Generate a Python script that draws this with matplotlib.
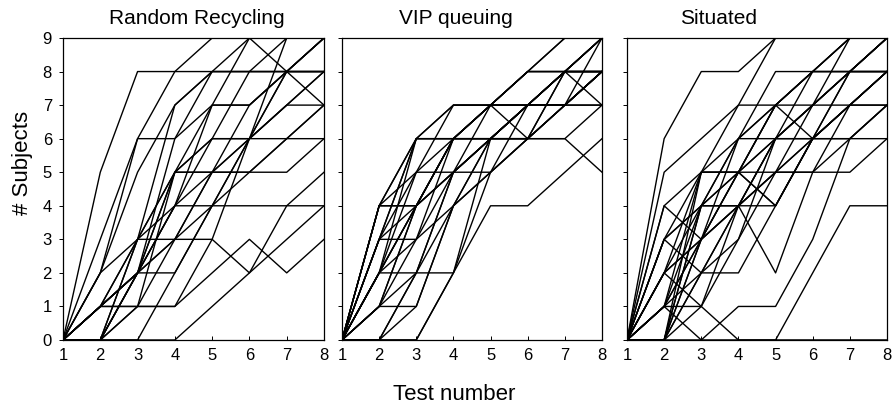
import matplotlib.pyplot as plt

plt.rcParams['font.family'] = ['Liberation Sans', 'DejaVu Sans']

tests = [1, 2, 3, 4, 5, 6, 7, 8]
panel_titles = ["Random Recycling", "VIP queuing", "Situated"]

# number of subjects per item at each test
random_recycling = [
    [0, 5, 8, 8, 8, 8, 8, 8],
    [0, 3, 6, 6, 8, 8, 8, 9],
    [0, 2, 6, 8, 9, 9, 9, 9],
    [0, 1, 3, 7, 8, 8, 8, 8],
    [0, 2, 3, 5, 7, 7, 8, 9],
    [0, 1, 2, 5, 5, 5, 6, 7],
    [0, 1, 3, 5, 6, 6, 7, 8],
    [0, 0, 2, 4, 6, 8, 9, 9],
    [0, 1, 2, 3, 5, 7, 8, 9],
    [0, 0, 1, 5, 5, 6, 7, 7],
    [0, 1, 1, 3, 4, 5, 6, 7],
    [0, 0, 3, 3, 3, 2, 4, 5],
    [0, 0, 1, 1, 2, 3, 2, 3],
    [0, 0, 0, 0, 1, 2, 3, 4],
    [0, 1, 2, 2, 4, 4, 4, 4],
    [0, 0, 2, 3, 5, 5, 5, 6],
    [0, 1, 1, 1, 3, 6, 8, 8],
    [0, 0, 2, 6, 7, 9, 8, 7],
    [0, 1, 2, 4, 5, 6, 9, 9],
    [0, 0, 0, 2, 4, 6, 7, 8],
    [0, 2, 5, 7, 8, 9, 9, 9],
    [0, 0, 2, 5, 6, 6, 6, 6],
    [0, 1, 2, 4, 7, 7, 8, 8],
    [0, 0, 3, 4, 4, 6, 8, 9],
]

vip_queuing = [
    [0, 4, 6, 6, 7, 7, 8, 9],
    [0, 4, 5, 6, 7, 8, 9, 9],
    [0, 3, 6, 7, 7, 8, 8, 9],
    [0, 3, 4, 6, 7, 7, 8, 8],
    [0, 2, 6, 6, 6, 7, 8, 9],
    [0, 2, 5, 5, 6, 7, 7, 8],
    [0, 4, 4, 5, 6, 6, 7, 8],
    [0, 3, 3, 6, 6, 7, 7, 8],
    [0, 1, 1, 4, 6, 6, 7, 7],
    [0, 2, 2, 2, 5, 7, 7, 8],
    [0, 1, 4, 5, 6, 7, 8, 9],
    [0, 0, 2, 5, 6, 7, 7, 8],
    [0, 0, 1, 4, 5, 6, 8, 8],
    [0, 0, 0, 2, 4, 4, 5, 6],
    [0, 0, 0, 2, 6, 7, 7, 8],
    [0, 2, 4, 6, 7, 8, 8, 9],
    [0, 3, 6, 6, 7, 8, 9, 9],
    [0, 1, 4, 6, 6, 6, 8, 8],
    [0, 2, 4, 5, 7, 7, 8, 7],
    [0, 2, 4, 6, 7, 6, 6, 5],
    [0, 1, 2, 5, 5, 6, 7, 7],
    [0, 4, 6, 7, 7, 7, 7, 8],
    [0, 3, 5, 7, 7, 8, 8, 8],
    [0, 2, 3, 4, 6, 6, 7, 9],
    [0, 1, 3, 5, 6, 7, 8, 8],
    [0, 0, 2, 4, 5, 6, 6, 7],
    [0, 4, 4, 6, 6, 7, 8, 8],
]

situated = [
    [0, 6, 8, 8, 9, 9, 9, 9],
    [0, 5, 6, 7, 9, 9, 9, 9],
    [0, 0, 4, 5, 6, 7, 8, 9],
    [0, 1, 3, 4, 6, 8, 9, 9],
    [0, 4, 3, 5, 7, 8, 8, 9],
    [0, 3, 2, 4, 6, 7, 9, 9],
    [0, 2, 1, 0, 0, 0, 0, 0],
    [0, 1, 0, 1, 1, 3, 6, 7],
    [0, 0, 0, 0, 0, 2, 4, 4],
    [0, 0, 0, 0, 0, 0, 0, 0],
    [0, 1, 1, 4, 4, 6, 6, 7],
    [0, 0, 4, 4, 5, 5, 7, 8],
    [0, 0, 5, 5, 5, 6, 8, 8],
    [0, 2, 5, 6, 7, 7, 8, 9],
    [0, 3, 5, 7, 7, 6, 6, 6],
    [0, 0, 3, 5, 7, 8, 8, 8],
    [0, 2, 4, 6, 8, 8, 9, 9],
    [0, 1, 2, 2, 4, 6, 7, 8],
    [0, 3, 4, 5, 6, 6, 7, 7],
    [0, 0, 2, 3, 6, 6, 7, 8],
    [0, 1, 5, 5, 4, 6, 8, 9],
    [0, 2, 3, 4, 2, 5, 6, 7],
    [0, 4, 5, 5, 7, 8, 8, 8],
    [0, 0, 1, 3, 5, 5, 5, 6],
    [0, 2, 3, 5, 4, 6, 7, 8],
    [0, 0, 3, 4, 5, 7, 8, 9],
    [0, 1, 4, 6, 6, 7, 8, 8],
    [0, 0, 2, 4, 5, 6, 7, 7],
    [0, 3, 4, 4, 6, 7, 7, 8],
    [0, 1, 3, 6, 7, 8, 9, 9],
]

W, H = 895, 408
fig = plt.figure(figsize=(W / 100, H / 100), dpi=100)

# axes boxes in pixels: (left, right), shared top/bottom
boxes = [(63, 324), (342, 602), (627, 887)]
top, bottom = 38, 340
title_x = [197, 456, 719]

for i, (data, (l, r)) in enumerate(zip([random_recycling, vip_queuing, situated], boxes)):
    ax = fig.add_axes([l / W, 1 - bottom / H, (r - l) / W, (bottom - top) / H])
    for ys in data:
        ax.plot(tests, ys, color='black', lw=1.0)
    ax.set_xlim(1, 8)
    ax.set_ylim(0, 9)
    ax.set_xticks(tests)
    ax.set_yticks(range(10))
    ax.tick_params(axis='x', direction='in', length=3, width=0.7, labelsize=12, pad=6)
    ax.tick_params(axis='y', direction='out', length=3, width=0.7, labelsize=12, pad=5)
    if i > 0:
        ax.set_yticklabels([])
    for s in ax.spines.values():
        s.set_linewidth(0.9)
    fig.text(title_x[i] / W, 1 - 18 / H, panel_titles[i], ha='center', va='center', fontsize=15)

fig.text(23 / W, 1 - 163 / H, "# Subjects", rotation=90, ha='center', va='center', fontsize=16)
fig.text(454 / W, 1 - 395 / H, "Test number", ha='center', va='center', fontsize=16)

plt.savefig("out.png", dpi=100)
